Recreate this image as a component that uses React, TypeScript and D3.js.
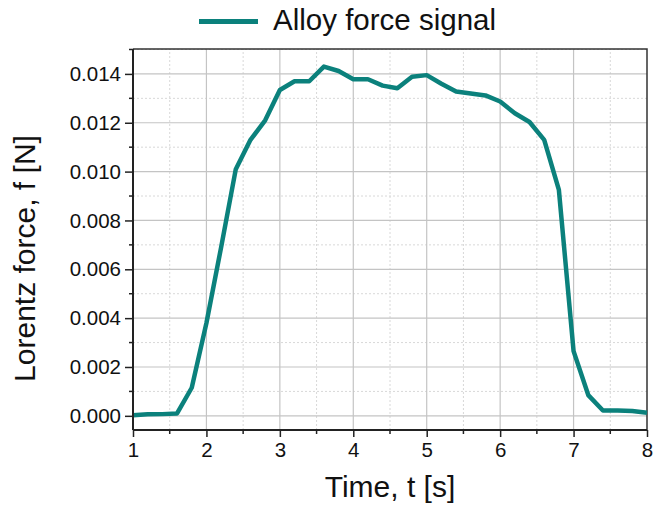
import React, { useEffect, useRef } from 'react';
import * as d3 from 'd3';

// time samples [s] and measured Lorentz force [N]
const times = [1.0, 1.2, 1.4, 1.6, 1.8, 2.0, 2.2, 2.4, 2.6, 2.8, 3.0, 3.2, 3.4, 3.6, 3.8, 4.0, 4.2, 4.4, 4.6, 4.8,
  5.0, 5.2, 5.4, 5.6, 5.8, 6.0, 6.2, 6.4, 6.6, 6.8, 7.0, 7.2, 7.4, 7.6, 7.8, 8.0];
const force = [0.00002, 0.00006, 0.00007, 0.0001, 0.00115, 0.0038, 0.0069, 0.0101, 0.0113, 0.0121, 0.01334, 0.0137,
  0.0137, 0.0143, 0.01412, 0.01378, 0.01378, 0.01352, 0.01341, 0.01388, 0.01395, 0.0136, 0.01328, 0.0132, 0.01312,
  0.01287, 0.01239, 0.01203, 0.0113, 0.00925, 0.00265, 0.00085, 0.00022, 0.00022, 0.0002, 0.00013];

const xTicks = [1, 2, 3, 4, 5, 6, 7, 8];
const yTicks = [0, 0.002, 0.004, 0.006, 0.008, 0.01, 0.012, 0.014];
const seriesName = 'Alloy force signal';

const W = 654, H = 508;
const margin = { left: 133, right: 7, top: 49, bottom: 78 };
const teal = '#0b817c';
const font = '"Liberation Sans", Arial, sans-serif';

const App = () => {
  const ref = useRef<SVGSVGElement>(null);

  useEffect(() => {
    const svg = d3.select(ref.current);
    svg.selectAll('*').remove();

    const x = d3.scaleLinear().domain([1, 8]).range([margin.left, W - margin.right]);
    const y = d3.scaleLinear().domain([-0.00058, 0.01502]).range([H - margin.bottom, margin.top]);
    const [x0, x1] = x.range();
    const [yb, yt] = y.range();

    const g = svg.append('g');

    // minor grid (dashed)
    const xMinor = d3.range(1.5, 8, 1);
    const yMinor = d3.range(0.001, 0.0151, 0.002);
    g.selectAll('.xminor').data(xMinor).enter().append('line')
      .attr('x1', d => x(d)).attr('x2', d => x(d)).attr('y1', yb).attr('y2', yt)
      .attr('stroke', '#d8d8d8').attr('stroke-dasharray', '2,2').attr('stroke-width', 1);
    g.selectAll('.yminor').data(yMinor).enter().append('line')
      .attr('x1', x0).attr('x2', x1).attr('y1', d => y(d)).attr('y2', d => y(d))
      .attr('stroke', '#d8d8d8').attr('stroke-dasharray', '2,2').attr('stroke-width', 1);

    // major grid
    g.selectAll('.xmajor').data(xTicks.slice(1, -1)).enter().append('line')
      .attr('x1', d => x(d)).attr('x2', d => x(d)).attr('y1', yb).attr('y2', yt)
      .attr('stroke', '#c4c4c4').attr('stroke-width', 1.2);
    g.selectAll('.ymajor').data(yTicks).enter().append('line')
      .attr('x1', x0).attr('x2', x1).attr('y1', d => y(d)).attr('y2', d => y(d))
      .attr('stroke', '#c4c4c4').attr('stroke-width', 1.2);

    // top & right frame
    g.append('path')
      .attr('d', `M${x0},${yt}H${x1}V${yb}`)
      .attr('fill', 'none').attr('stroke', '#333').attr('stroke-width', 1.5);

    // the signal
    const line = d3.line<number>()
      .x((_, i) => x(times[i]))
      .y(d => y(d));
    g.append('path')
      .datum(force)
      .attr('d', line)
      .attr('fill', 'none')
      .attr('stroke', teal)
      .attr('stroke-width', 4.5)
      .attr('stroke-linejoin', 'round');

    // axes
    const xAxis = d3.axisBottom(x).tickValues(xTicks).tickSize(7).tickFormat(d3.format('d'));
    const xAx = g.append('g').attr('transform', `translate(0,${yb})`).call(xAxis);
    xAx.selectAll('.xm').data(xMinor).enter().append('line')
      .attr('x1', d => x(d)).attr('x2', d => x(d)).attr('y1', 0).attr('y2', 4)
      .attr('stroke', '#222').attr('stroke-width', 1.5);

    const yAxis = d3.axisLeft(y).tickValues(yTicks).tickSize(8).tickFormat(d3.format('.3f'));
    const yAx = g.append('g').attr('transform', `translate(${x0},0)`).call(yAxis);
    yAx.selectAll('.ym').data(yMinor).enter().append('line')
      .attr('x1', 0).attr('x2', -4).attr('y1', d => y(d)).attr('y2', d => y(d))
      .attr('stroke', '#222').attr('stroke-width', 1.5);

    [xAx, yAx].forEach(a => {
      a.select('.domain').attr('stroke', '#222').attr('stroke-width', 2);
      a.selectAll('.tick line').attr('stroke', '#222').attr('stroke-width', 1.5);
      a.selectAll('.tick text').attr('font-family', font).attr('font-size', 20.5).attr('fill', '#111');
    });
    yAx.select('.domain').attr('d', `M0,${yb}V${yt}`);
    xAx.select('.domain').attr('d', `M${x0},0H${x1}`);
    xAx.selectAll('.tick text').attr('y', 27).attr('dy', 0);
    yAx.selectAll('.tick text').attr('x', -12);

    // axis titles
    svg.append('text')
      .attr('x', 390).attr('y', 497)
      .attr('text-anchor', 'middle')
      .attr('font-family', font).attr('font-size', 30).attr('fill', '#111')
      .text('Time, t [s]');
    svg.append('text')
      .attr('transform', `translate(35,258.5) rotate(-90)`)
      .attr('text-anchor', 'middle')
      .attr('font-family', font).attr('font-size', 30).attr('fill', '#111')
      .text('Lorentz force, f [N]');

    // legend
    const lg = svg.append('g').attr('transform', 'translate(199,21.5)');
    lg.append('line').attr('x1', 0).attr('x2', 59).attr('y1', 0).attr('y2', 0)
      .attr('stroke', teal).attr('stroke-width', 5);
    lg.append('text').attr('x', 74).attr('y', 8.5)
      .attr('font-family', font).attr('font-size', 29.5).attr('fill', '#111')
      .text(seriesName);
  }, []);

  return (
    <div style={{ position: 'absolute', left: 0, top: 0 }}>
      <svg ref={ref} width={W} height={H} style={{ display: 'block', background: '#fff' }} />
    </div>
  );
};

export default App;
